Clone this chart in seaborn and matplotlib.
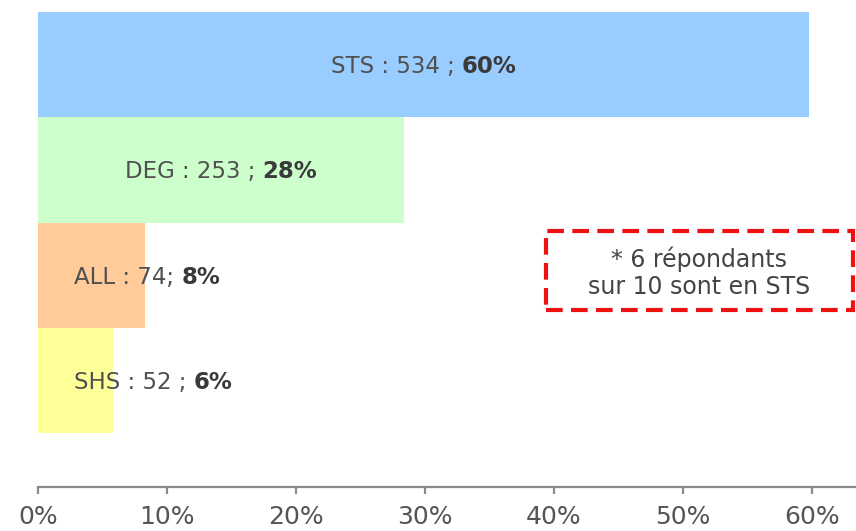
import matplotlib
matplotlib.use("Agg")
import matplotlib.pyplot as plt
import matplotlib.patches as mpatches
import seaborn as sns
import pandas as pd

categories = ["STS", "DEG", "ALL", "SHS"]
counts = [534, 253, 74, 52]
percent_values = [59.8, 28.4, 8.3, 5.8]
percent_labels = ["60%", "28%", "8%", "6%"]
count_sep = [" : ", " : ", " : ", " : "]
pct_sep = [" ; ", " ; ", "; ", " ; "]
colors = ["#99CCFF", "#CCFFCC", "#FFCC99", "#FFFF99"]
xticks = [0, 10, 20, 30, 40, 50, 60]
xtick_labels = ["0%", "10%", "20%", "30%", "40%", "50%", "60%"]
note_text = "* 6 répondants\nsur 10 sont en STS"

sns.set_theme(style="white")
plt.rcParams["font.family"] = ["DejaVu Sans"]

W, H = 856, 531
fig = plt.figure(figsize=(W / 100, H / 100), dpi=100)
ax = fig.add_axes([38 / W, 1 - 487 / H, (W - 38) / W, (487 - 12) / H])

df = pd.DataFrame({"cat": categories, "pct": percent_values})
sns.barplot(data=df, x="pct", y="cat", hue="cat", palette=colors,
            width=1.0, legend=False, ax=ax, saturation=1, edgecolor="none")

ax.set_xlim(0, (W - 38) / 12.9)
ax.set_ylim(4.01, -0.5)
ax.set_xlabel("")
ax.set_ylabel("")
ax.set_yticks([])
ax.set_xticks(xticks)
ax.set_xticklabels(xtick_labels, fontsize=18, color="#555555")
for s in ["top", "right", "left"]:
    ax.spines[s].set_visible(False)
ax.spines["bottom"].set_color("#8a8a8a")
ax.spines["bottom"].set_linewidth(1.6)
ax.tick_params(axis="x", bottom=True, direction="out", length=5, width=1.6,
               color="#8a8a8a", pad=8)

fs = 16.5
normal_texts = []
bold_texts = []
for i, (c, n, p) in enumerate(zip(categories, counts, percent_labels)):
    t1 = ax.text(0, i + 0.08, f"{c}{count_sep[i]}{n}{pct_sep[i]}", fontsize=fs,
                 color="#505050", ha="left", va="baseline")
    t2 = ax.text(0, i + 0.08, p, fontsize=fs, fontweight="bold",
                 color="#3a3a3a", ha="left", va="baseline")
    normal_texts.append(t1)
    bold_texts.append(t2)

fig.canvas.draw()
r = fig.canvas.get_renderer()
inv = ax.transData.inverted()
x0d = inv.transform((0, 0))[0]
for i, v in enumerate(percent_values):
    w1 = normal_texts[i].get_window_extent(r).width
    w2 = bold_texts[i].get_window_extent(r).width
    w1d = inv.transform((w1, 0))[0] - x0d
    w2d = inv.transform((w2, 0))[0] - x0d
    total_d = w1d + w2d
    if total_d < v * 0.95:
        start = v / 2 - total_d / 2
    else:
        start = 2.8
    normal_texts[i].set_x(start)
    bold_texts[i].set_x(start + w1d)

rect = mpatches.Rectangle((546 / W, 1 - 310 / H), 307 / W, 79 / H,
                          transform=fig.transFigure, fill=False,
                          edgecolor="#EE1111", linewidth=3,
                          linestyle=(0, (4, 2)))
fig.patches.append(rect)
fig.text(699 / W, 1 - 273 / H, note_text, ha="center", va="center",
         fontsize=17, color="#444444", linespacing=1.15)

fig.savefig("out.png", dpi=100)
